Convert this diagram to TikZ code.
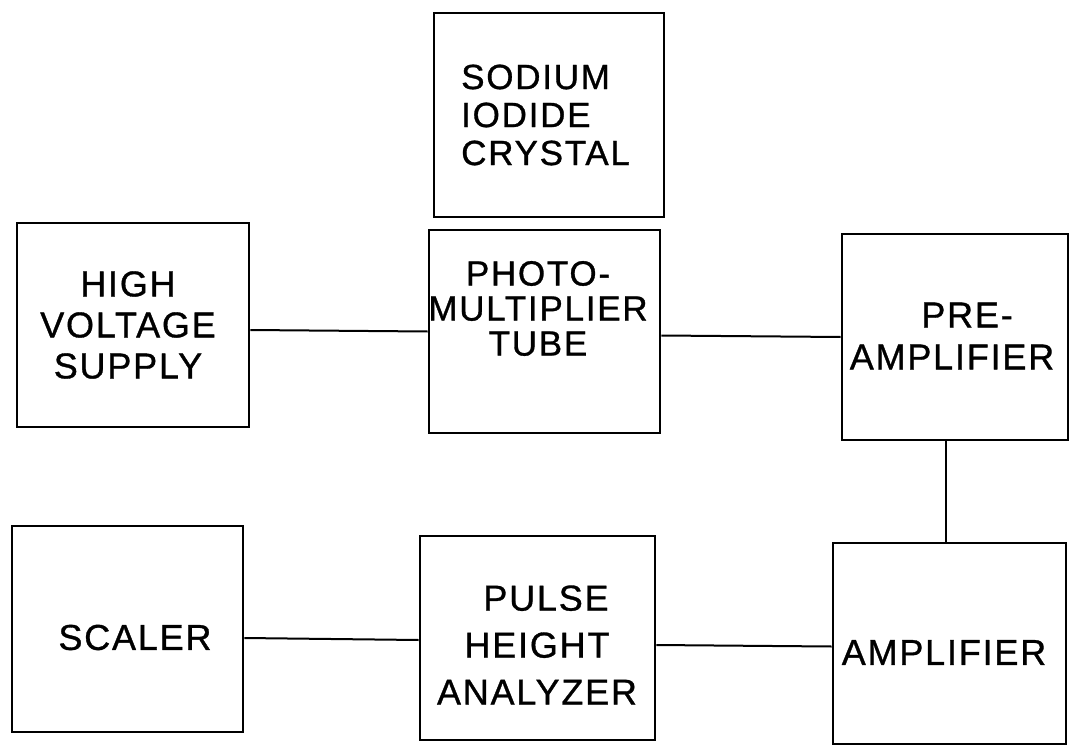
\documentclass[tikz,border=0pt]{standalone}
\usepackage{fontspec}
\setmainfont{Liberation Sans}
\newfontfamily\lbl[LetterSpace=5,FakeBold=0.9]{Liberation Sans}
\begin{document}
\begin{tikzpicture}[x=1pt,y=-1pt,
  box/.style={draw=black, line width=2.6pt, inner sep=0pt, minimum width=#1},
  box/.default=231pt,
  wire/.style={draw=black, line width=2pt},
  txt/.style={inner sep=0pt, align=center, font=\lbl\fontsize{36}{40}\selectfont}]
\useasboundingbox (0,0) rectangle (1070,746);
% boxes
\node[box=230pt, minimum height=204pt] (sod) at (549,115) {};
\node[box=232pt, minimum height=204pt] (hv)  at (133,325) {};
\node[box=231pt, minimum height=203pt] (pmt) at (544.5,331.5) {};
\node[box=226pt, minimum height=206pt] (pre) at (955,337) {};
\node[box=231pt, minimum height=206pt] (sc)  at (127.5,629) {};
\node[box=235pt, minimum height=204pt] (pha) at (537.5,638) {};
\node[box=233pt, minimum height=201pt] (amp) at (949.5,643.5) {};
% labels
\node[txt, align=left, anchor=west, font=\lbl\fontsize{35}{38}\selectfont] (sodT) at (461,115) {SODIUM\\IODIDE\\CRYSTAL};
\node[txt, font=\lbl\fontsize{36}{41}\selectfont] (hvT) at (128,325) {HIGH\\VOLTAGE\\SUPPLY};
\node[txt, font=\lbl\fontsize{35}{35}\selectfont] (pmtT) at (538,308.5) {PHOTO-\\MULTIPLIER\\TUBE};
\node[txt, font=\lbl\fontsize{36}{42}\selectfont] (preT) at (952,336) {\hspace*{30pt}PRE-\\AMPLIFIER};
\node[txt] (scT) at (135,637.5) {SCALER};
\node[txt, font=\lbl\fontsize{36}{47}\selectfont] (phaT) at (537,645) {\hspace*{18pt}PULSE\\HEIGHT\\ANALYZER};
\node[txt] (ampT) at (944,652.5) {AMPLIFIER};
% connectors
\draw[wire] ([yshift=-5pt]hv.east) -- (pmt.west);
\draw[wire] ([yshift=-4pt]pmt.east) -- (pre.west);
\draw[wire] ([xshift=-9pt]pre.south) -- ([xshift=-9pt]pre.south |- amp.north);
\draw[wire] ([yshift=-9pt]sc.east) -- ([yshift=-2pt]pha.west);
\draw[wire] ([yshift=-7pt]pha.east) -- ([yshift=-3pt]amp.west);
\end{tikzpicture}
\end{document}
